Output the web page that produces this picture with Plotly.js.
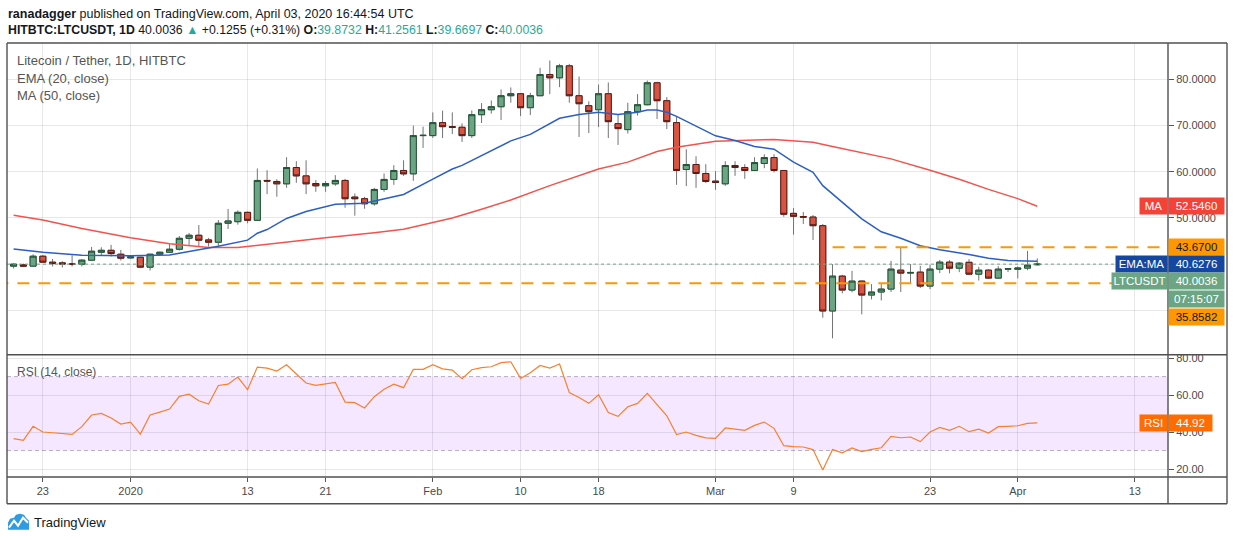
<!DOCTYPE html>
<html><head><meta charset="utf-8">
<script src="https://cdn.plot.ly/plotly-3.0.1.min.js"></script>
<style>html,body{margin:0;padding:0;background:#fff;}#chart{width:1234px;height:541px;}</style>
</head><body><div id="chart"></div>
<script>
// ---------------- DATA ----------------
const candleDates = [
'2019-12-20','2019-12-21','2019-12-22','2019-12-23','2019-12-24','2019-12-25','2019-12-26','2019-12-27','2019-12-28','2019-12-29','2019-12-30','2019-12-31',
'2020-01-01','2020-01-02','2020-01-03','2020-01-04','2020-01-05','2020-01-06','2020-01-07','2020-01-08','2020-01-09','2020-01-10','2020-01-11','2020-01-12','2020-01-13','2020-01-14','2020-01-15','2020-01-16','2020-01-17','2020-01-18','2020-01-19','2020-01-20','2020-01-21','2020-01-22','2020-01-23','2020-01-24','2020-01-25','2020-01-26','2020-01-27','2020-01-28','2020-01-29','2020-01-30','2020-01-31',
'2020-02-01','2020-02-02','2020-02-03','2020-02-04','2020-02-05','2020-02-06','2020-02-07','2020-02-08','2020-02-09','2020-02-10','2020-02-11','2020-02-12','2020-02-13','2020-02-14','2020-02-15','2020-02-16','2020-02-17','2020-02-18','2020-02-19','2020-02-20','2020-02-21','2020-02-22','2020-02-23','2020-02-24','2020-02-25','2020-02-26','2020-02-27','2020-02-28','2020-02-29',
'2020-03-01','2020-03-02','2020-03-03','2020-03-04','2020-03-05','2020-03-06','2020-03-07','2020-03-08','2020-03-09','2020-03-10','2020-03-11','2020-03-12','2020-03-13','2020-03-14','2020-03-15','2020-03-16','2020-03-17','2020-03-18','2020-03-19','2020-03-20','2020-03-21','2020-03-22','2020-03-23','2020-03-24','2020-03-25','2020-03-26','2020-03-27','2020-03-28','2020-03-29','2020-03-30','2020-03-31',
'2020-04-01','2020-04-02','2020-04-03'];

const openP = [
39.57,39.85,39.57,41.72,40.43,40.28,40.06,40.0,40.86,42.58,43.0,42.15,
41.35,41.5,39.35,42.15,42.58,43.23,45.6,46.26,45.25,44.75,48.85,49.2,51.22,49.5,58.13,57.91,57.4,60.93,59.12,57.47,56.97,57.4,58.13,54.53,54.17,53.08,56.18,58.35,60.29,59.56,67.84,
67.84,70.65,69.78,69.65,67.84,72.37,73.45,74.1,76.48,76.91,73.89,76.48,81.07,80.36,82.95,76.48,74.32,73.45,76.91,70.43,69.14,73.02,74.53,79.28,75.4,70.65,60.5,61.58,59.64,
57.98,57.4,61.37,60.93,60.29,61.8,63.09,60.29,51.0,50.3,50.2,48.33,29.86,37.41,34.39,36.33,33.31,33.96,34.6,38.7,38.06,38.27,35.25,38.92,40.43,39.13,40.4,37.84,38.7,36.98,38.92,
38.9,39.14,39.8732];
const highP = [
40.2,40.13,42.15,41.94,41.14,40.64,41.94,41.1,43.73,43.66,44.17,43.09,
41.65,41.57,42.29,42.72,44.53,46.1,46.76,48.48,45.68,49.56,51.94,51.65,51.4,60.72,60.35,58.41,63.16,62.3,62.5,58.2,58.0,59.27,58.48,55.3,54.6,56.53,59.64,61.43,62.5,70.0,69.78,
72.87,73.24,72.87,70.5,73.3,74.88,75.46,77.84,78.27,77.0,77.12,82.53,84.11,83.38,83.38,80.64,75.25,78.91,79.35,72.37,74.96,76.82,79.78,79.5,76.18,71.86,64.89,63.38,61.65,
60.14,62.3,62.3,61.65,63.16,63.8,63.8,60.3,52.15,51.29,50.64,48.7,40.0,37.7,38.55,36.4,35.68,35.68,40.71,43.73,40.0,39.63,39.85,40.93,40.86,40.43,41.08,39.42,38.92,39.57,39.14,
39.49,42.87,41.2561];
const lowP = [
39.06,39.35,39.5,40.35,39.5,39.28,39.5,39.5,40.8,41.94,41.65,40.78,
41.2,39.14,38.62,41.94,42.5,42.94,44.17,43.8,43.8,43.66,47.62,48.55,48.85,49.4,55.17,54.6,56.53,57.61,55.17,55.67,55.67,56.97,52.23,50.5,52.0,52.66,55.67,57.18,59.12,58.05,65.17,
67.33,67.33,68.19,66.46,67.33,70.57,72.59,71.21,74.96,72.07,72.29,76.4,76.82,78.34,74.96,67.55,68.4,69.7,67.33,65.82,68.28,72.16,74.4,71.43,69.27,57.18,56.9,56.53,57.55,
56.1,56.97,59.12,58.48,60.2,60.78,59.86,50.27,46.39,48.7,45.24,28.4,23.94,33.66,33.9,29.12,32.36,32.14,33.96,33.96,35.9,34.82,34.6,38.06,38.0,38.27,37.63,36.46,36.83,36.9,38.27,
36.9,38.7,39.6697];
const closeP = [
40.0,39.57,41.72,40.43,40.13,40.06,40.0,40.86,42.8,43.0,42.29,41.29,
41.57,39.35,42.15,42.58,43.23,45.6,46.26,45.18,44.75,48.85,49.35,51.22,49.5,58.13,58.0,57.4,60.93,59.12,57.4,56.97,57.47,58.13,54.17,54.17,53.08,56.18,58.35,60.29,59.56,67.84,67.9,
70.65,69.78,69.65,67.84,72.37,73.45,74.1,76.48,76.91,73.89,76.48,81.07,80.36,82.95,76.48,74.75,73.02,76.91,70.86,69.35,73.02,74.53,79.28,75.4,70.86,60.29,61.58,59.64,57.91,
57.7,61.37,60.93,60.29,62.0,63.09,60.29,50.8,50.36,50.2,48.33,29.86,37.41,34.39,36.33,33.31,33.96,34.6,38.92,38.06,38.2,35.25,38.92,40.43,39.13,40.21,37.84,38.7,36.98,38.92,39.0,
39.14,39.78,40.0036];

const emaDates = ['2019-12-20','2019-12-23','2019-12-27','2020-01-01','2020-01-05','2020-01-08','2020-01-10','2020-01-13','2020-01-14','2020-01-15','2020-01-17','2020-01-19','2020-01-22','2020-01-25','2020-01-29','2020-02-01','2020-02-03','2020-02-04','2020-02-09','2020-02-11','2020-02-14','2020-02-16','2020-02-18','2020-02-20','2020-02-22','2020-02-23','2020-02-24','2020-02-25','2020-02-26','2020-03-01','2020-03-03','2020-03-05','2020-03-07','2020-03-09','2020-03-11','2020-03-12','2020-03-14','2020-03-16','2020-03-18','2020-03-20','2020-03-22','2020-03-24','2020-03-27','2020-03-29','2020-03-31','2020-04-03'];
const emaValues = [43.3,42.6,41.94,41.8,42.0,43.1,43.9,45.2,46.7,47.5,49.9,51.4,52.95,53.2,55.1,58.4,60.6,61.4,66.7,68.1,71.6,72.4,72.9,72.4,72.9,73.4,73.4,72.9,72.0,67.8,66.8,65.5,64.9,62.1,59.9,57.0,53.5,49.8,47.0,45.6,44.0,43.1,42.1,41.3,40.8,40.63];

const maDates = ['2019-12-20','2019-12-23','2019-12-27','2020-01-01','2020-01-05','2020-01-09','2020-01-12','2020-01-14','2020-01-17','2020-01-21','2020-01-26','2020-01-29','2020-02-01','2020-02-03','2020-02-06','2020-02-09','2020-02-13','2020-02-18','2020-02-21','2020-02-24','2020-02-26','2020-03-01','2020-03-07','2020-03-11','2020-03-13','2020-03-15','2020-03-19','2020-03-23','2020-03-26','2020-03-29','2020-04-01','2020-04-03'];
const maValues = [50.6,49.56,47.7,45.7,44.4,43.6,43.6,44.1,44.9,45.74,46.8,47.55,49.0,50.0,51.9,53.9,57.0,60.6,62.1,64.4,65.3,66.6,67.0,66.4,65.5,64.6,62.8,60.35,58.4,56.2,54.2,52.55];

const rsiValues = [
36.4,35.5,43.1,40.0,39.6,39.1,38.7,42.9,49.2,50.1,47.6,44.3,
45.4,38.9,49.2,50.8,52.4,59.3,60.5,56.9,55.1,65.2,65.9,69.7,62.9,75.1,74.6,73.0,76.4,71.4,66.5,65.2,65.8,66.8,56.2,55.9,53.0,59.1,63.1,65.9,64.0,73.9,73.9,
76.4,74.2,73.5,68.8,73.7,74.8,75.3,77.5,78.0,69.0,72.1,76.0,74.6,76.8,61.3,58.7,55.5,60.2,50.6,48.5,53.7,55.5,60.9,54.8,48.8,38.6,40.0,38.2,36.8,
36.6,42.2,41.6,40.9,43.6,45.4,42.0,32.6,32.1,31.9,30.5,19.5,30.5,28.8,31.4,29.4,30.6,31.5,37.7,36.9,37.3,34.8,40.0,42.5,40.9,43.1,40.2,41.6,39.5,42.9,43.1,
43.4,44.7,44.92];

const resistanceLevel = 43.67;
const supportLevel = 35.8582;
const resistanceStart = '2020-03-13';
const lastClose = 40.0036;
const lastEma = 40.6276;
const lastMa = 52.546;
const lastRsi = 44.92;
const countdown = '07:15:07';

const timeTickVals = ['2019-12-23','2020-01-01','2020-01-13','2020-01-21','2020-02-01','2020-02-10','2020-02-18','2020-03-01','2020-03-09','2020-03-23','2020-04-01','2020-04-13'];
const timeTickText = ['23','2020','13','21','Feb','10','18','Mar','9','23','Apr','13'];
const priceTicks = [30,40,50,60,70,80];
const priceTickText = ['','','50.0000','60.0000','70.0000','80.0000'];
const rsiTicks = [20,40,60,80];
const rsiTickText = ['20.00','40.00','60.00','80.00'];

// ---------------- LAYOUT HELPERS ----------------
const L = 7, R = 1168, T = 43, B = 477.3;
const PX = x => (x - L) / (R - L);
const PY = y => (B - y) / (B - T);
const FONT = 'Liberation Sans, Arial, sans-serif';
const UP = '#6ba583', DOWN = '#d75442', UPB = '#225437', DOWNB = '#5b1a13', WICK = '#737375';

const bodyHigh = openP.map((o, i) => Math.max(o, closeP[i]));
const bodyLow = openP.map((o, i) => Math.min(o, closeP[i]));

const traces = [
  {type:'candlestick', x:candleDates, open:openP, high:highP, low:lowP, close:closeP,
   xaxis:'x2', yaxis:'y2', whiskerwidth:0,
   increasing:{line:{color:WICK,width:1}, fillcolor:UP},
   decreasing:{line:{color:WICK,width:1}, fillcolor:DOWN}, hoverinfo:'skip'},
  {type:'candlestick', x:candleDates, open:openP, high:bodyHigh, low:bodyLow, close:closeP,
   xaxis:'x2', yaxis:'y2', whiskerwidth:0,
   increasing:{line:{color:UPB,width:1}, fillcolor:UP},
   decreasing:{line:{color:DOWNB,width:1}, fillcolor:DOWN}, hoverinfo:'skip'},
  {type:'scatter', mode:'lines', x:maDates, y:maValues, xaxis:'x2', yaxis:'y2',
   line:{color:'#f2544c', width:1.5}, hoverinfo:'skip'},
  {type:'scatter', mode:'lines', x:emaDates, y:emaValues, xaxis:'x2', yaxis:'y2',
   line:{color:'#2b5fc6', width:1.5}, hoverinfo:'skip'},
  {type:'scatter', mode:'lines', x:candleDates, y:rsiValues, xaxis:'x', yaxis:'y',
   line:{color:'#f7802f', width:1.2}, hoverinfo:'skip'}
];

const gridC = 'rgba(0,0,0,0.09)';
const xRange = ['2019-12-19 07:45', '2020-04-16 09:50'];
const frameC = '#505050';

function hline(y, x0, x1, w) { return {type:'line', xref:'paper', yref:'paper', x0:PX(x0), x1:PX(x1), y0:PY(y), y1:PY(y), line:{color:frameC, width:w||1.4}, layer:'above'}; }
function vline(x, y0, y1, w) { return {type:'line', xref:'paper', yref:'paper', x0:PX(x), x1:PX(x), y0:PY(y0), y1:PY(y1), line:{color:frameC, width:w||1.4}, layer:'above'}; }

const shapes = [
  {type:'rect', xref:'paper', yref:'y', x0:0, x1:1, y0:30, y1:70, fillcolor:'rgba(153,21,255,0.1)', line:{width:0}, layer:'below'},
  {type:'line', xref:'paper', yref:'y', x0:0, x1:1, y0:70, y1:70, line:{color:'rgba(120,110,140,0.5)', width:1, dash:'4px,3px'}, layer:'below'},
  {type:'line', xref:'paper', yref:'y', x0:0, x1:1, y0:30, y1:30, line:{color:'rgba(120,110,140,0.5)', width:1, dash:'4px,3px'}, layer:'below'},
  {type:'line', xref:'paper', yref:'y2', x0:0, x1:1, y0:lastClose, y1:lastClose, line:{color:UP, width:1, dash:'dot'}, layer:'above'},
  {type:'line', xref:'x2', yref:'y2', x0:resistanceStart, x1:'2020-05-30', y0:resistanceLevel, y1:resistanceLevel, line:{color:'#ff9800', width:2, dash:'12px,9px'}, layer:'above'},
  {type:'line', xref:'x2', yref:'y2', x0:'2019-12-01', x1:'2020-05-30', y0:supportLevel, y1:supportLevel, line:{color:'#ff9800', width:2, dash:'12px,9px'}, layer:'above'},
  hline(43, 7, 1227), hline(355, 7, 1227), hline(477.3, 7, 1227), hline(504, 7, 1227),
  vline(7, 43, 504), vline(1168, 43, 504), vline(1227, 43, 504)
];

// TradingView logo icon
function pth(pts) { return pts.map((p, i) => (i ? 'L' : 'M') + PX(p[0]).toFixed(5) + ',' + PY(p[1]).toFixed(5)).join(' '); }
shapes.push({type:'path', xref:'paper', yref:'paper', layer:'above',
  path: pth([[8,530],[8,523],[10,519],[14,518],[16,515],[20,514],[24,515],[26,518],[29,521],[29,530]]) + ' Z',
  fillcolor:'#2f9be3', line:{width:0}});
shapes.push({type:'path', xref:'paper', yref:'paper', layer:'above',
  path: pth([[9,528],[14,521],[18,526],[23,518],[28,523]]),
  line:{color:'#ffffff', width:2}});

function tag(text, x0, x1, yc, bg, fc, size) {
  return {xref:'paper', yref:'paper', x:PX(x0), y:PY(yc), xanchor:'left', yanchor:'middle',
    text:text, showarrow:false, bgcolor:bg, borderpad:0, width:(x1 - x0), height:16, align:'center',
    font:{family:FONT, size:size||11.5, color:fc||'#ffffff'}};
}
function txt(text, x, y, size, color) {
  return {xref:'paper', yref:'paper', x:PX(x), y:PY(y), xanchor:'left', yanchor:'middle',
    text:text, showarrow:false, align:'left', font:{family:FONT, size:size, color:color}};
}
const teal = '#2aa99a';
const fmt4 = v => v.toFixed(4);
const annotations = [
  txt('<b>ranadagger</b> published on TradingView.com, April 03, 2020 16:44:54 UTC', 6.4, 13.5, 12.5, '#131722'),
  txt('<b>HITBTC:LTCUSDT, 1D</b> ' + fmt4(lastClose) + ' <span style="color:' + teal + '">▲</span> +0.1255 (+0.31%) <b>O:</b><span style="color:' + teal + '">' + fmt4(openP[openP.length-1]) + '</span> <b>H:</b><span style="color:' + teal + '">' + fmt4(highP[highP.length-1]) + '</span> <b>L:</b><span style="color:' + teal + '">' + fmt4(lowP[lowP.length-1]) + '</span> <b>C:</b><span style="color:' + teal + '">' + fmt4(lastClose) + '</span>', 6.4, 29.5, 12.3, '#131722'),
  txt('Litecoin / Tether, 1D, HITBTC', 15, 60.5, 13, '#555555'),
  txt('EMA (20, close)', 15, 78.3, 13, '#555555'),
  txt('MA (50, close)', 15, 95.5, 13, '#555555'),
  txt('RSI (14, close)', 15, 372.7, 12, '#555555'),
  txt('TradingView', 32, 522.5, 13, '#131722'),
  tag('MA', 1139, 1166, 206.2, '#f44336'),
  tag(fmt4(lastMa), 1168, 1223, 206.2, '#f44336'),
  tag(fmt4(resistanceLevel), 1168, 1223, 247.3, '#ff9800', '#131722'),
  tag('EMA:MA', 1115, 1166, 264.2, '#15479e'),
  tag(fmt4(lastEma), 1168, 1223, 264.2, '#15479e'),
  tag('LTCUSDT', 1111, 1166, 281.3, UP),
  tag(fmt4(lastClose), 1168, 1223, 281.3, UP),
  tag(countdown, 1168, 1223, 299.5, UP),
  tag(fmt4(supportLevel), 1168, 1223, 316.7, '#ff9800', '#131722'),
  tag('RSI', 1139, 1166, 423.5, '#ff6d00'),
  tag(lastRsi.toFixed(2), 1168, 1211, 423.5, '#ff6d00')
];

const d1 = PY(355.3), d2 = PY(355);
const layout = {
  width:1234, height:541,
  margin:{l:L, r:1234 - R, t:T, b:541 - B, pad:0},
  paper_bgcolor:'#ffffff', plot_bgcolor:'#ffffff',
  showlegend:false, hovermode:false, dragmode:false,
  boxgap:0.38, boxgroupgap:0,
  xaxis:{type:'date', domain:[0,1], anchor:'y', range:xRange, tickvals:timeTickVals, ticktext:timeTickText,
    showgrid:true, gridcolor:gridC, gridwidth:1, zeroline:false, showline:false,
    ticks:'outside', ticklen:4, tickcolor:'#555', tickfont:{family:FONT, size:11, color:'#4a4a4a'},
    rangeslider:{visible:false}, fixedrange:true},
  xaxis2:{type:'date', domain:[0,1], anchor:'y2', matches:'x', range:xRange, tickvals:timeTickVals,
    showticklabels:false, ticks:'', showgrid:true, gridcolor:gridC, gridwidth:1, zeroline:false, showline:false,
    rangeslider:{visible:false}, fixedrange:true},
  yaxis:{domain:[0, d1], anchor:'x', side:'right', range:[15.68, 81.62], tickvals:rsiTicks,
    ticktext:rsiTickText, showgrid:true, gridcolor:gridC, zeroline:false, showline:false,
    ticks:'outside', ticklen:5, tickcolor:'#555', tickfont:{family:FONT, size:11, color:'#4a4a4a'}, fixedrange:true},
  yaxis2:{domain:[d2, 1], anchor:'x2', side:'right', range:[20.37, 87.9], tickvals:priceTicks,
    ticktext:priceTickText, showgrid:true, gridcolor:gridC, zeroline:false, showline:false,
    ticks:'outside', ticklen:5, tickcolor:'#555', tickfont:{family:FONT, size:11, color:'#4a4a4a'}, fixedrange:true},
  shapes:shapes,
  annotations:annotations
};

Plotly.newPlot('chart', traces, layout, {staticPlot:true, displayModeBar:false});
</script>
</body></html>
